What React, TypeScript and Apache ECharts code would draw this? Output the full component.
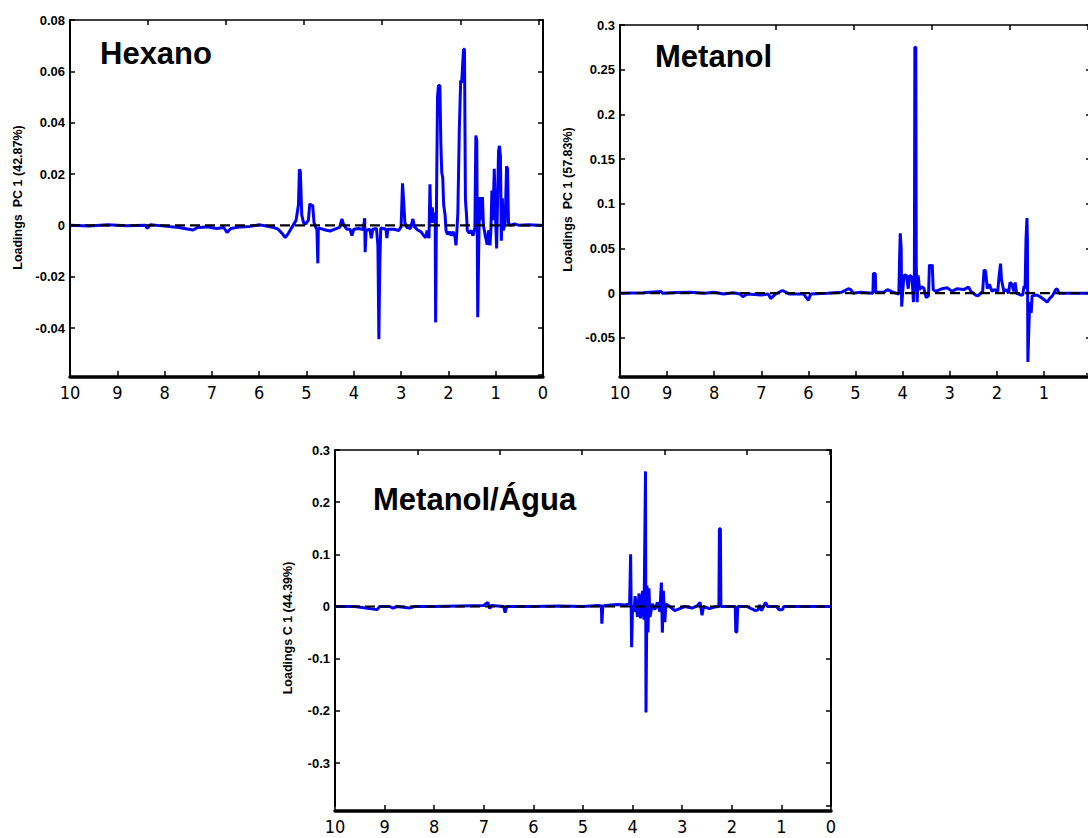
import React, { useEffect, useRef } from "react";
import * as echarts from "echarts";

// ---------- data (ppm, loading) ----------
const hexanoLoadings: [number, number][] = [
  [10, 0], [9.6, -0.0003], [9.2, 0.0002], [8.8, -0.0002], [8.4, 0], [8.37, -0.0012], [8.3, 0.0002],
  [8.0, -0.0003], [7.7, -0.0008], [7.4, -0.0018], [7.3, -0.0008], [7.1, -0.0006], [6.9, -0.0012],
  [6.75, -0.0008], [6.68, -0.0028], [6.6, -0.0012], [6.4, -0.0006], [6.2, -0.0004], [6.0, 0.0002],
  [5.85, -0.0003], [5.7, -0.0008], [5.6, -0.0015], [5.5, -0.0035], [5.45, -0.0048], [5.38, -0.003],
  [5.3, -0.0005], [5.22, 0.002], [5.17, 0.008], [5.15, 0.0218], [5.13, 0.021], [5.1, 0.004],
  [5.06, 0.001], [5.02, 0.0005], [4.96, 0.002], [4.93, 0.0085], [4.9, 0.0075], [4.87, 0.008],
  [4.84, 0.001], [4.8, -0.001], [4.78, -0.0015], [4.76, -0.0148], [4.75, -0.001], [4.6, -0.0018],
  [4.5, -0.0022], [4.4, -0.0015], [4.3, -0.0008], [4.25, 0.0025], [4.22, 0.0005], [4.15, -0.0015],
  [4.08, -0.0015], [4.04, -0.004], [4.0, -0.0015], [3.9, -0.0012], [3.8, -0.0016], [3.77, 0.0028],
  [3.76, -0.0105], [3.74, -0.002], [3.66, -0.0015], [3.63, -0.005], [3.6, -0.0015], [3.52, -0.0012],
  [3.49, -0.008], [3.47, -0.0444], [3.45, -0.015], [3.43, -0.001], [3.38, -0.0012], [3.32, -0.0015],
  [3.3, -0.005], [3.28, -0.0015], [3.15, -0.0015], [3.05, -0.002], [3.0, -0.0005], [2.97, 0.0164],
  [2.95, 0.0105], [2.92, 0.001], [2.88, -0.0008], [2.8, -0.0012], [2.75, 0.0025], [2.72, -0.0005],
  [2.65, -0.0018], [2.58, -0.0025], [2.52, -0.004], [2.48, -0.0048], [2.45, -0.002], [2.41, -0.005],
  [2.39, 0.016], [2.37, 0.001], [2.34, 0.007], [2.32, 0.001], [2.28, 0.005], [2.27, -0.0378],
  [2.25, 0.012], [2.23, 0.05], [2.21, 0.0545], [2.18, 0.0545], [2.16, 0.032], [2.14, 0.0205],
  [2.12, 0.0187], [2.1, 0.008], [2.07, 0.004], [2.05, -0.002], [2.02, -0.0035], [1.98, -0.0025],
  [1.94, -0.004], [1.9, -0.0025], [1.86, -0.0045], [1.84, -0.0078], [1.82, -0.002], [1.8, 0.005],
  [1.77, 0.037], [1.74, 0.0565], [1.72, 0.0555], [1.7, 0.062], [1.68, 0.0686], [1.66, 0.0686],
  [1.64, 0.01], [1.62, 0.005], [1.6, -0.002], [1.56, -0.003], [1.52, -0.002], [1.48, -0.004],
  [1.44, -0.001], [1.42, 0.035], [1.4, 0.033], [1.38, -0.0358], [1.36, -0.01], [1.34, 0.011],
  [1.32, 0.002], [1.28, 0.011], [1.26, 0.0], [1.22, -0.004], [1.18, -0.0075], [1.15, -0.002],
  [1.12, -0.0078], [1.1, -0.001], [1.08, 0.0136], [1.06, 0.002], [1.03, 0.022], [1.01, 0.006],
  [0.98, -0.009], [0.96, 0.01], [0.94, 0.029], [0.92, 0.031], [0.9, 0.027], [0.88, -0.006],
  [0.86, 0.0105], [0.84, -0.002], [0.8, 0.001], [0.77, 0.023], [0.75, 0.022], [0.73, 0.001],
  [0.7, 0.0], [0.6, 0.0005], [0.5, 0.0], [0.3, 0.0002], [0.1, 0.0], [0, 0],
];

const metanolLoadings: [number, number][] = [
  [10, 0], [9.5, 0.0005], [9.13, 0.002], [9.1, 0], [8.8, 0.0008], [8.5, 0.001], [8.2, 0], [8.0, 0.001],
  [7.8, -0.001], [7.6, 0.0005], [7.45, -0.001], [7.39, -0.004], [7.3, -0.001], [7.0, -0.002],
  [6.85, -0.001], [6.8, -0.006], [6.7, -0.001], [6.55, 0.003], [6.4, -0.001], [6.1, -0.001],
  [6.0, -0.008], [5.95, -0.001], [5.6, 0], [5.3, 0.001], [5.15, 0.005], [5.1, 0.004], [5.05, 0],
  [4.9, 0.001], [4.63, 0], [4.62, 0.022], [4.58, 0.022], [4.57, 0.001], [4.4, 0.001], [4.32, 0.004],
  [4.2, 0.001], [4.08, -0.001], [4.06, 0.048], [4.05, 0.067], [4.03, 0.05], [4.02, -0.015], [4.0, 0.0],
  [3.97, 0.02], [3.92, 0.02], [3.88, 0.005], [3.85, 0.02], [3.8, 0.018], [3.77, -0.01], [3.75, 0.015],
  [3.74, 0.275], [3.72, 0.275], [3.71, 0.03], [3.69, -0.01], [3.67, 0.02], [3.64, 0.004], [3.6, 0.007],
  [3.55, 0.006], [3.5, -0.005], [3.45, -0.003], [3.43, 0.032], [3.4, 0.028], [3.37, 0.032], [3.35, 0.004],
  [3.3, 0.002], [3.16, 0.005], [3.05, 0.006], [2.95, 0.002], [2.85, 0.005], [2.7, 0.004], [2.6, 0.007],
  [2.55, 0.002], [2.45, -0.002], [2.4, -0.003], [2.3, 0.002], [2.27, 0.026], [2.24, 0.025], [2.2, 0.005],
  [2.16, 0.01], [2.1, 0.002], [2.05, 0.004], [1.98, 0.002], [1.95, 0.02], [1.92, 0.033], [1.9, 0.015],
  [1.85, 0.002], [1.8, 0.004], [1.75, 0.0], [1.72, 0.012], [1.68, 0.01], [1.64, 0.002], [1.61, 0.012],
  [1.58, 0.0], [1.5, -0.002], [1.45, -0.002], [1.42, 0.008], [1.4, 0.005], [1.38, 0.06], [1.36, 0.084],
  [1.35, 0.06], [1.34, -0.077], [1.32, -0.04], [1.3, -0.01], [1.27, -0.022], [1.25, -0.003],
  [1.15, -0.002], [1.08, -0.004], [1.0, -0.007], [0.93, -0.01], [0.88, -0.006], [0.82, -0.003],
  [0.75, 0.004], [0.72, 0.005], [0.68, 0.0], [0.5, 0.0], [0.2, 0.0], [0, 0],
];

const metanolAguaLoadings: [number, number][] = [
  [10, 0], [9.6, 0], [9.15, -0.006], [9.1, 0], [8.9, 0], [8.83, -0.003], [8.75, 0], [8.5, -0.003],
  [8.4, 0], [8.0, 0], [7.5, 0.001], [7.0, 0.002], [6.92, 0.008], [6.88, -0.004], [6.85, 0.002],
  [6.6, 0], [6.57, -0.012], [6.54, 0], [6.0, 0], [5.5, 0.001], [5.0, 0], [4.7, 0.002], [4.63, 0.001],
  [4.62, -0.033], [4.6, 0.001], [4.45, 0.003], [4.3, 0.004], [4.15, 0.003], [4.06, 0.005], [4.04, 0.1],
  [4.03, 0.1], [4.02, -0.078], [4.0, 0.003], [3.97, -0.01], [3.95, 0.02], [3.9, -0.02], [3.87, 0.025],
  [3.84, -0.023], [3.8, 0.03], [3.77, -0.025], [3.74, 0.259], [3.73, -0.203], [3.71, 0.04],
  [3.69, -0.05], [3.67, 0.035], [3.65, -0.02], [3.6, 0.005], [3.55, -0.006], [3.5, 0.008],
  [3.45, -0.01], [3.42, 0.046], [3.4, -0.05], [3.38, 0.03], [3.35, -0.03], [3.33, 0.005], [3.25, 0],
  [3.15, -0.008], [3.05, -0.004], [2.95, 0], [2.8, -0.003], [2.7, 0.001], [2.64, 0.008], [2.6, -0.017],
  [2.57, 0], [2.45, -0.004], [2.35, -0.001], [2.26, 0], [2.25, 0.149], [2.23, 0.149], [2.22, 0],
  [2.1, 0], [1.93, 0], [1.92, -0.049], [1.9, -0.049], [1.88, 0], [1.7, 0], [1.52, -0.008],
  [1.47, -0.006], [1.44, 0.003], [1.4, -0.008], [1.32, 0.008], [1.28, 0], [1.1, 0], [1.05, -0.006],
  [0.98, -0.006], [0.95, 0], [0.5, 0], [0, 0],
];

const zeroLine: [number, number][] = [[10, 0], [0, 0]];

const panelTitles = ["Hexano", "Metanol", "Metanol/Água"];
const yAxisNames = ["Loadings  PC 1 (42.87%)", "Loadings  PC 1 (57.83%)", "Loadings C 1 (44.39%)"];
const yRanges: [number, number, number][] = [
  // [min, max, splitNumber]
  [-0.0583, 0.08, 7],
  [-0.0904, 0.3, 8],
  [-0.3824, 0.3, 7],
];
const ppmRange: [number, number] = [0, 10];

// ---------- layout ----------
const grids = [
  { left: 70, top: 20, width: 473, height: 355 },
  { left: 620, top: 25, width: 471, height: 349 },
  { left: 335, top: 450, width: 496, height: 356 },
];
const bottomOffsets = [2, 3, 5];
const topAxisMax = [6.06, 6.04, 6.02];
const showZeroLabel = [true, false, true];
const titlePos = [
  { left: 100, top: 38 },
  { left: 655, top: 41 },
  { left: 373, top: 484 },
];
const nameGaps = [46, 46, 41];

const X_FONT = "'Liberation Sans Narrow', 'DejaVu Sans Condensed', 'Arial Narrow', sans-serif";
const Y_FONT = "'Liberation Sans', Arial, Helvetica, sans-serif";

export default function App() {
  const ref = useRef<HTMLDivElement>(null);

  useEffect(() => {
    if (!ref.current) return;
    const chart = echarts.init(ref.current, undefined, { renderer: "svg" });

    const xAxes: any[] = [];
    const yAxes: any[] = [];
    const series: any[] = [];
    const datasets = [hexanoLoadings, metanolLoadings, metanolAguaLoadings];

    grids.forEach((g, i) => {
      xAxes.push({
        type: "value",
        gridIndex: i,
        position: "bottom",
        min: ppmRange[0],
        max: ppmRange[1],
        interval: 1,
        inverse: true,
        offset: bottomOffsets[i],
        axisLine: { show: true, onZero: false, lineStyle: { color: "#000", width: 3.5 } },
        axisTick: { show: true, inside: true, length: 6, lineStyle: { color: "#000", width: 1.5 } },
        axisLabel: {
          show: true,
          color: "#000",
          fontFamily: X_FONT,
          fontSize: 18,
          margin: 6,
          showMinLabel: showZeroLabel[i],
        },
        splitLine: { show: false },
      });
      xAxes.push({
        type: "value",
        gridIndex: i,
        position: "top",
        min: 0,
        max: topAxisMax[i],
        interval: 1,
        axisLine: { show: true, onZero: false, lineStyle: { color: "#000", width: 1.5 } },
        axisTick: { show: true, inside: true, length: 5, lineStyle: { color: "#000", width: 1.5 } },
        axisLabel: { show: false },
        splitLine: { show: false },
      });
      const [ymin, ymax, split] = yRanges[i];
      yAxes.push({
        type: "value",
        gridIndex: i,
        position: "left",
        min: ymin,
        max: ymax,
        splitNumber: split,
        name: yAxisNames[i],
        nameLocation: "middle",
        nameRotate: 90,
        nameGap: nameGaps[i],
        nameTextStyle: { color: "#000", fontFamily: Y_FONT, fontWeight: "bold", fontSize: 12.5 },
        axisLine: { show: true, onZero: false, lineStyle: { color: "#000", width: 2 } },
        axisTick: { show: true, inside: true, length: 5, lineStyle: { color: "#000", width: 1.5 } },
        axisLabel: {
          show: true,
          color: "#000",
          fontFamily: Y_FONT,
          fontWeight: "bold",
          fontSize: 13,
          margin: 5,
          showMinLabel: false,
        },
        splitLine: { show: false },
      });
      yAxes.push({
        type: "value",
        gridIndex: i,
        position: "right",
        min: ymin,
        max: ymax,
        splitNumber: split,
        axisLine: { show: true, onZero: false, lineStyle: { color: "#000", width: 2 } },
        axisTick: { show: true, inside: true, length: 5, lineStyle: { color: "#000", width: 1.5 } },
        axisLabel: { show: false },
        splitLine: { show: false },
      });

      series.push({
        type: "line",
        xAxisIndex: i * 2,
        yAxisIndex: i * 2,
        data: datasets[i],
        showSymbol: false,
        symbol: "none",
        lineStyle: { color: "#0000ff", width: 3, join: "bevel" },
        itemStyle: { color: "#0000ff" },
        z: 2,
        silent: true,
      });
      series.push({
        type: "line",
        xAxisIndex: i * 2,
        yAxisIndex: i * 2,
        data: zeroLine,
        showSymbol: false,
        symbol: "none",
        lineStyle: { color: "#000", width: 2.2, type: [10, 5] },
        z: 3,
        silent: true,
      });
    });

    chart.setOption({
      animation: false,
      backgroundColor: "#fff",
      title: panelTitles.map((t, i) => ({
        text: t,
        left: titlePos[i].left,
        top: titlePos[i].top,
        padding: 0,
        textStyle: { color: "#000", fontFamily: Y_FONT, fontWeight: "bold", fontSize: 31 },
      })),
      grid: grids.map((g) => ({ ...g, containLabel: false, outerBoundsMode: "none" })),
      xAxis: xAxes,
      yAxis: yAxes,
      series,
    });

    return () => chart.dispose();
  }, []);

  return (
    <div
      ref={ref}
      style={{ position: "fixed", left: 0, top: 0, width: 1088, height: 838, background: "#fff" }}
    />
  );
}
